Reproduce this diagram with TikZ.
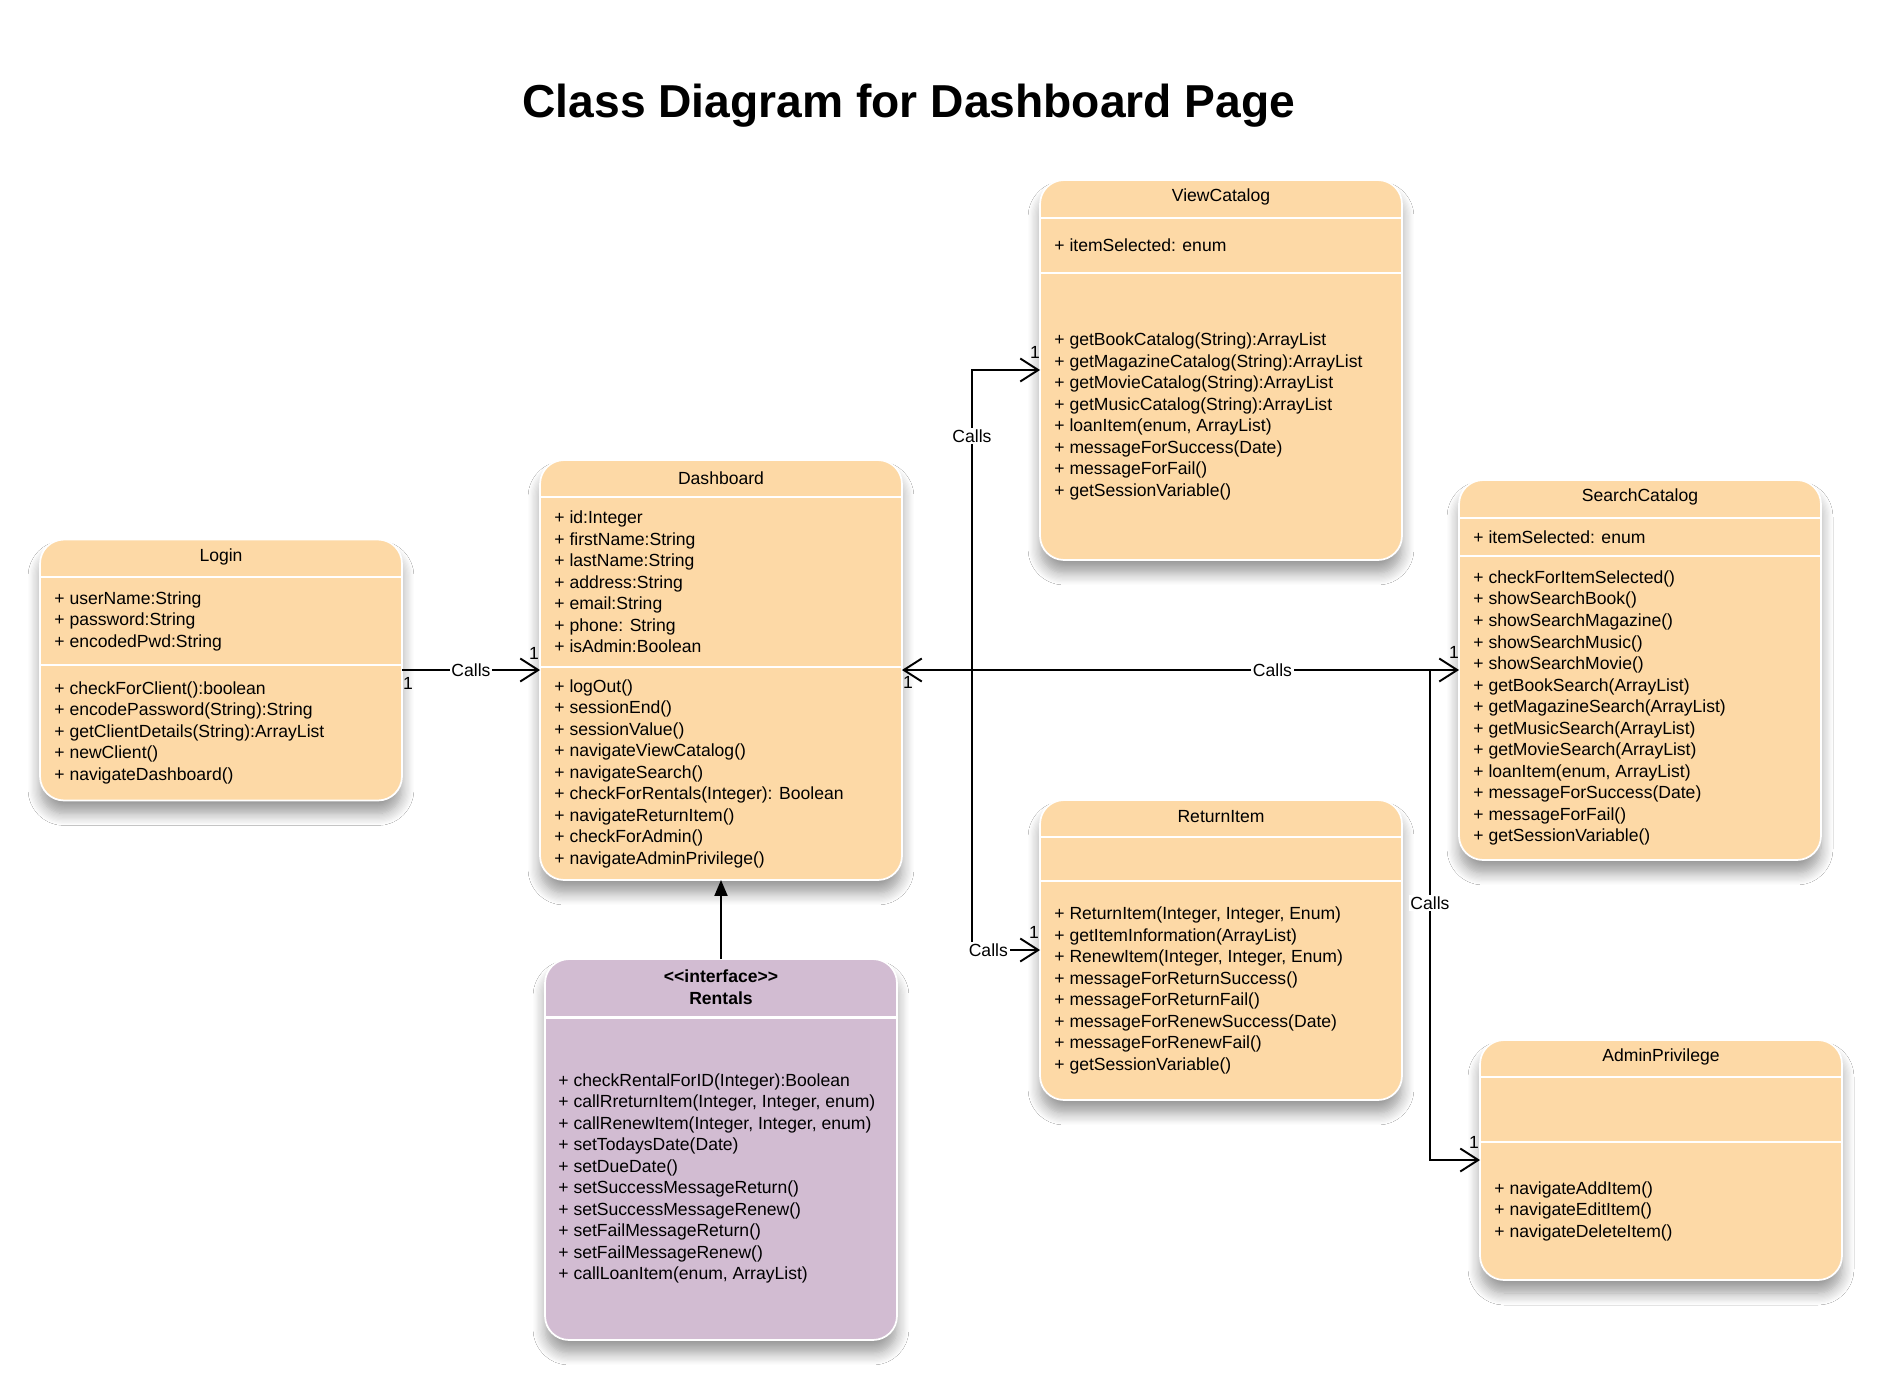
\documentclass[tikz,border=0pt]{standalone}
\usepackage{fontspec}
\setmainfont{Liberation Sans}
\usetikzlibrary{arrows.meta,shadows.blur}
\definecolor{classfill}{RGB}{253,217,166}
\definecolor{ifacefill}{RGB}{210,188,210}
\tikzset{
  classbox/.style={draw=white, line width=1pt, fill=classfill, rounded corners=0.48cm, outer sep=0, inner sep=0, minimum width=7.24cm, blur shadow={shadow xshift=0cm, shadow yshift=-0.26cm, shadow blur radius=0.24cm, shadow blur steps=10, shadow opacity=40}},
  classname/.style={font=\fontsize{10}{12.25}\selectfont, inner sep=0},
  members/.style={font=\fontsize{10}{12.25}\selectfont, align=left, anchor=west, inner sep=0},
  divider/.style={draw=white, line width=1.2pt},
  calls/.style={line width=1.1pt, ->},
  callstext/.style={fill=white, inner sep=1pt, font=\fontsize{10}{12.25}\selectfont},
  mult/.style={inner sep=0, font=\fontsize{10}{12.25}\selectfont},
  >={Straight Barb[length=0.36cm, width=0.46cm]}
}
\begin{document}
\begin{tikzpicture}[x=0.02cm, y=-0.02cm]
        \useasboundingbox[fill=white] (0,0) rectangle (1880,1380);
%%% Start Title
        \node[font=\fontsize{26.3}{30}\selectfont\bfseries] (title) at (909,106) {Class Diagram for Dashboard Page};
%%% End Title
%%% Start Login
        \node[classbox, minimum height=5.22cm] (login) at (221,670) {};
        \draw (login.north) ++(0,17.5) node[classname] (login-name) {Login};
        \draw[divider] (login.north west) ++(0,37.5) -- ++(362,0);
        \draw[divider] (login.north west) ++(0,125.5) -- ++(362,0);
        \draw (login.north west) ++(14,81.5) node[members] (login-attr) {+ userName:String\\+ password:String\\+ encodedPwd:String};
        \draw (login.north west) ++(14,193) node[members] (login-ops) {+ checkForClient():boolean\\+ encodePassword(String):String\\+ getClientDetails(String):ArrayList\\+ newClient()\\+ navigateDashboard()};
%%% End Login
%%% Start Dashboard
        \node[classbox, minimum height=8.4cm] (dash) at (721,670) {};
        \draw (dash.north) ++(0,18) node[classname] (dash-name) {Dashboard};
        \draw[divider] (dash.north west) ++(0,37) -- ++(362,0);
        \draw[divider] (dash.north west) ++(0,207) -- ++(362,0);
        \draw (dash.north west) ++(14,122) node[members] (dash-attr) {+ id:Integer\\+ firstName:String\\+ lastName:String\\+ address:String\\+ email:String\\+ phone: String\\+ isAdmin:Boolean};
        \draw (dash.north west) ++(14,313.5) node[members] (dash-ops) {+ logOut()\\+ sessionEnd()\\+ sessionValue()\\+ navigateViewCatalog()\\+ navigateSearch()\\+ checkForRentals(Integer): Boolean\\+ navigateReturnItem()\\+ checkForAdmin()\\+ navigateAdminPrivilege()};
%%% End Dashboard
%%% Start ViewCatalog
        \node[classbox, minimum height=7.6cm] (view) at (1221,370) {};
        \draw (view.north) ++(0,17) node[classname] (view-name) {ViewCatalog};
        \draw[divider] (view.north west) ++(0,38) -- ++(362,0);
        \draw[divider] (view.north west) ++(0,93) -- ++(362,0);
        \draw (view.north west) ++(14,65.5) node[members] (view-attr) {+ itemSelected: enum};
        \draw (view.north west) ++(14,236.5) node[members] (view-ops) {+ getBookCatalog(String):ArrayList\\+ getMagazineCatalog(String):ArrayList\\+ getMovieCatalog(String):ArrayList\\+ getMusicCatalog(String):ArrayList\\+ loanItem(enum, ArrayList)\\+ messageForSuccess(Date)\\+ messageForFail()\\+ getSessionVariable()};
%%% End ViewCatalog
%%% Start SearchCatalog
        \node[classbox, minimum height=7.6cm] (search) at (1640,670) {};
        \draw (search.north) ++(0,17) node[classname] (search-name) {SearchCatalog};
        \draw[divider] (search.north west) ++(0,38) -- ++(362,0);
        \draw[divider] (search.north west) ++(0,76) -- ++(362,0);
        \draw (search.north west) ++(14,57) node[members] (search-attr) {+ itemSelected: enum};
        \draw (search.north west) ++(14,228) node[members] (search-ops) {+ checkForItemSelected()\\+ showSearchBook()\\+ showSearchMagazine()\\+ showSearchMusic()\\+ showSearchMovie()\\+ getBookSearch(ArrayList)\\+ getMagazineSearch(ArrayList)\\+ getMusicSearch(ArrayList)\\+ getMovieSearch(ArrayList)\\+ loanItem(enum, ArrayList)\\+ messageForSuccess(Date)\\+ messageForFail()\\+ getSessionVariable()};
%%% End SearchCatalog
%%% Start ReturnItem
        \node[classbox, minimum height=6cm] (ret) at (1221,950) {};
        \draw (ret.north) ++(0,17) node[classname] (ret-name) {ReturnItem};
        \draw[divider] (ret.north west) ++(0,37) -- ++(362,0);
        \draw[divider] (ret.north west) ++(0,81) -- ++(362,0);
        \draw (ret.north west) ++(14,190.5) node[members] (ret-ops) {+ ReturnItem(Integer, Integer, Enum)\\+ getItemInformation(ArrayList)\\+ RenewItem(Integer, Integer, Enum)\\+ messageForReturnSuccess()\\+ messageForReturnFail()\\+ messageForRenewSuccess(Date)\\+ messageForRenewFail()\\+ getSessionVariable()};
%%% End ReturnItem
%%% Start AdminPrivilege
        \node[classbox, minimum height=4.8cm] (admin) at (1661,1160) {};
        \draw (admin.north) ++(0,17) node[classname] (admin-name) {AdminPrivilege};
        \draw[divider] (admin.north west) ++(0,37) -- ++(362,0);
        \draw[divider] (admin.north west) ++(0,102) -- ++(362,0);
        \draw (admin.north west) ++(14,171) node[members] (admin-ops) {+ navigateAddItem()\\+ navigateEditItem()\\+ navigateDeleteItem()};
%%% End AdminPrivilege
%%% Start Rentals
        \node[classbox, fill=ifacefill, minimum width=7.04cm, minimum height=7.62cm] (rent) at (721,1149.5) {};
        \draw (rent.north) ++(0,28) node[classname, align=center, font=\fontsize{10}{12.25}\selectfont\bfseries] (rent-name) {\mbox{<}\mbox{<}interface\mbox{>}\mbox{>}\\Rentals};
        \draw[divider] (rent.north west) ++(0,58.5) -- ++(352,0);
        \draw (rent.north west) ++(13,219.5) node[members] (rent-ops) {+ checkRentalForID(Integer):Boolean\\+ callRreturnItem(Integer, Integer, enum)\\+ callRenewItem(Integer, Integer, enum)\\+ setTodaysDate(Date)\\+ setDueDate()\\+ setSuccessMessageReturn()\\+ setSuccessMessageRenew()\\+ setFailMessageReturn()\\+ setFailMessageRenew()\\+ callLoanItem(enum, ArrayList)};
%%% End Rentals
%%% Start Calls connectors
        \coordinate (jl) at (972,670);
        \coordinate (jr) at (1430,670);
        \draw[calls] (login.east) -- node[callstext] {Calls} (dash.west);
        \draw[calls, <->] (dash.east) -- node[callstext, pos=0.665] {Calls} (search.west);
        \draw[calls] (jl) |- node[callstext, pos=0.39] {Calls} (view.west);
        \draw[calls] (jl) |- node[callstext, pos=0.62] {Calls} (ret.west);
        \draw[calls] (jr) |- node[callstext, pos=0.238] {Calls} (admin.west);
        \draw[line width=1.1pt, -{Triangle[length=0.32cm, width=0.26cm]}] (rent.north) -- (dash.south);
%%% End Calls connectors
%%% Start multiplicities
        \draw (login.east) ++(6,13) node[mult] {1};
        \draw (dash.west) ++(-6,-17) node[mult] {1};
        \draw (dash.east) ++(6,12) node[mult] {1};
        \draw (search.west) ++(-5,-18) node[mult] {1};
        \draw (view.west) ++(-5,-18) node[mult] {1};
        \draw (ret.west) ++(-6,-18) node[mult] {1};
        \draw (admin.west) ++(-6,-18) node[mult] {1};
%%% End multiplicities
\end{tikzpicture}
\end{document}
